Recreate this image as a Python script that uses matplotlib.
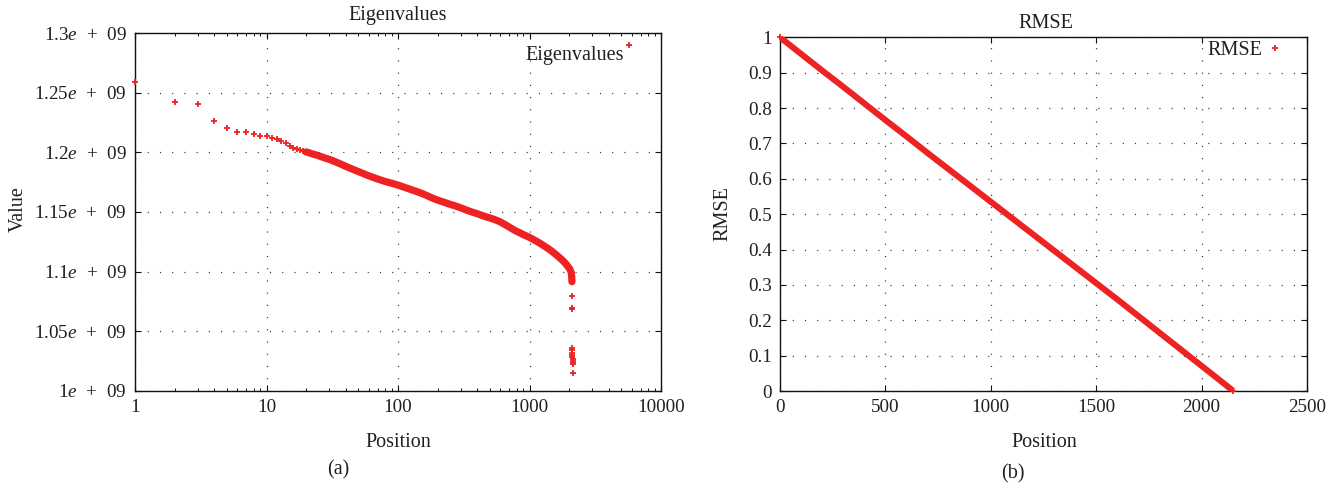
import numpy as np
import matplotlib
matplotlib.use("Agg")
import matplotlib.pyplot as plt
from matplotlib.ticker import FixedLocator, FixedFormatter, LogLocator, NullFormatter
from matplotlib.legend_handler import HandlerLine2D

# ---------------- data ----------------
eig_positions = [1, 2, 3, 4, 5, 6, 7, 8, 9, 10, 11, 12, 13, 14, 15, 16, 17, 18, 19, 20,
                 21, 22, 24, 26, 28, 30, 32, 35, 38, 41, 45, 49, 53, 58, 63, 68, 74, 80,
                 87, 94, 100, 110, 120, 130, 142, 155, 168, 184, 200, 220, 240, 262, 287,
                 310, 332, 360, 390, 425, 460, 500, 545, 597, 650, 710, 775, 845, 920,
                 1000, 1100, 1200, 1300, 1400, 1500, 1600, 1700, 1800, 1900, 1950, 2000,
                 2040, 2060, 2075, 2085, 2092, 2097, 2100, 2103,
                 2105, 2108, 2110, 2112, 2114, 2116, 2118, 2121, 2124, 2128, 2133, 2140, 2153]
eig_values_e9 = [1.2589, 1.2426, 1.2404, 1.2266, 1.2207, 1.2174, 1.2171, 1.2155, 1.2142, 1.2135,
                 1.2123, 1.2110, 1.2096, 1.2082, 1.2056, 1.2040, 1.2030, 1.2020, 1.2010, 1.2004,
                 1.1998, 1.1990, 1.1978, 1.1965, 1.1952, 1.1942, 1.1930, 1.1912, 1.1895, 1.1878,
                 1.1860, 1.1843, 1.1828, 1.1810, 1.1795, 1.1782, 1.1768, 1.1756, 1.1745, 1.1735,
                 1.1726, 1.1710, 1.1696, 1.1682, 1.1668, 1.1652, 1.1635, 1.1615, 1.1600, 1.1585,
                 1.1570, 1.1557, 1.1543, 1.1529, 1.1516, 1.1502, 1.1490, 1.1475, 1.1462, 1.1450,
                 1.1436, 1.1418, 1.1395, 1.1370, 1.1345, 1.1325, 1.1305, 1.1287, 1.1262, 1.1238,
                 1.1213, 1.1190, 1.1165, 1.1140, 1.1115, 1.1090, 1.1062, 1.1045, 1.1030, 1.1015,
                 1.1002, 1.0990, 1.0975, 1.0960, 1.0945, 1.0930, 1.0915,
                 1.0797, 1.0695, 1.0685, 1.0362, 1.0340, 1.0320, 1.0300, 1.0280, 1.0262, 1.0248,
                 1.0235, 1.0226, 1.0146]
eig_dense_range = (20, 2103)   # positions where the points merge into a solid band

rmse_positions = [0, 100, 200, 300, 400, 500, 600, 700, 800, 900, 1000, 1100, 1200,
                  1300, 1400, 1500, 1600, 1700, 1800, 1900, 2000, 2100, 2150]
rmse_values = [1.000, 0.953, 0.906, 0.860, 0.813, 0.766, 0.720, 0.673, 0.627, 0.581,
               0.535, 0.489, 0.443, 0.397, 0.351, 0.305, 0.259, 0.212, 0.165, 0.118,
               0.071, 0.024, 0.000]

eig_xticks = [1, 10, 100, 1000, 10000]
eig_xticklabels = ["1", "10", "100", "1000", "10000"]
eig_yticks_e9 = [1.0, 1.05, 1.1, 1.15, 1.2, 1.25, 1.3]
eig_yticklabels = [r"$1e\ \,+\ \,09$", r"$1.05e\ \,+\ \,09$", r"$1.1e\ \,+\ \,09$",
                   r"$1.15e\ \,+\ \,09$", r"$1.2e\ \,+\ \,09$", r"$1.25e\ \,+\ \,09$",
                   r"$1.3e\ \,+\ \,09$"]
rmse_xticks = [0, 500, 1000, 1500, 2000, 2500]
rmse_xticklabels = ["0", "500", "1000", "1500", "2000", "2500"]
rmse_yticks = [0, 0.1, 0.2, 0.3, 0.4, 0.5, 0.6, 0.7, 0.8, 0.9, 1.0]
rmse_yticklabels = ["0", "0.1", "0.2", "0.3", "0.4", "0.5", "0.6", "0.7", "0.8", "0.9", "1"]

# ---------------- style ----------------
SERIF = "Liberation Serif"
TXT = "#231f20"
RED = "#ee2222"
plt.rcParams.update({
    "font.family": [SERIF, "DejaVu Serif"],
    "mathtext.fontset": "custom",
    "mathtext.rm": SERIF,
    "mathtext.it": SERIF + ":italic",
    "mathtext.bf": SERIF + ":bold",
    "text.color": TXT,
    "axes.edgecolor": "#111111",
    "xtick.color": "#111111",
    "ytick.color": "#111111",
    "xtick.labelcolor": TXT,
    "ytick.labelcolor": TXT,
    "lines.scale_dashes": False,
})
TICK_FS = 13.8
LABEL_FS = 14.5

W, H = 1339, 488
fig = plt.figure(figsize=(W / 100, H / 100), dpi=100)
ax1 = fig.add_axes([135 / W, 1 - 390.7 / H, (661 - 135) / W, (390.7 - 33.3) / H])
ax2 = fig.add_axes([780 / W, 1 - 391 / H, (1307 - 780) / W, (391 - 37.3) / H])

GRID_KW = dict(color="0.2", linewidth=0.9, linestyle=(0, (0.8, 8.0)))


def style_axes(ax):
    for s in ax.spines.values():
        s.set_linewidth(1.0)
    ax.tick_params(which="major", direction="in", length=4.5, width=0.8,
                   top=True, right=True, labelsize=TICK_FS)
    ax.tick_params(which="minor", direction="in", length=2.3, width=0.7,
                   top=True, right=True)
    ax.tick_params(axis="y", pad=6)
    ax.tick_params(axis="x", pad=6)
    ax.grid(True, which="major", **GRID_KW)
    ax.set_axisbelow(True)


class RaisedMarkerHandler(HandlerLine2D):
    """Legend key whose sample marker sits a few pixels above the text centre."""
    def __init__(self, raise_px=0.0, **kw):
        super().__init__(**kw)
        self.raise_px = raise_px

    def create_artists(self, legend, orig_handle, xdescent, ydescent, width, height,
                       fontsize, trans):
        arts = super().create_artists(legend, orig_handle, xdescent, ydescent, width,
                                      height, fontsize, trans)
        shift = self.raise_px * 72.0 / legend.figure.dpi
        for a in arts:
            a.set_ydata([y + shift for y in a.get_ydata()])
        return arts


# ---------------- (a) Eigenvalues ----------------
pos = np.array(eig_positions, dtype=float)
val = np.array(eig_values_e9) * 1e9
dense = (pos >= eig_dense_range[0]) & (pos <= eig_dense_range[1])
ax1.set_xscale("log")
ax1.plot(pos[dense], val[dense], color=RED, linewidth=5.2, solid_capstyle="round",
         solid_joinstyle="round", zorder=3)
h1, = ax1.plot(pos, val, linestyle="none", marker="+", markersize=5, markeredgewidth=1.3,
               color=RED, clip_on=False, zorder=4, label="Eigenvalues")
ax1.set_xlim(1, 10000)
ax1.set_ylim(1.0e9, 1.3e9)
ax1.xaxis.set_major_locator(FixedLocator(eig_xticks))
ax1.xaxis.set_major_formatter(FixedFormatter(eig_xticklabels))
ax1.xaxis.set_minor_locator(LogLocator(base=10, subs=np.arange(2, 10)))
ax1.xaxis.set_minor_formatter(NullFormatter())
ax1.yaxis.set_major_locator(FixedLocator([v * 1e9 for v in eig_yticks_e9]))
ax1.yaxis.set_major_formatter(FixedFormatter(eig_yticklabels))
style_axes(ax1)
ax1.legend(handles=[h1], loc="upper right", bbox_to_anchor=(1 - 28 / 526, 1 - 13 / 357.4),
           markerfirst=False, frameon=False, handlelength=0.4, handletextpad=0.05,
           borderpad=0, borderaxespad=0, fontsize=LABEL_FS,
           handler_map={h1: RaisedMarkerHandler(raise_px=8.5)})

# ---------------- (b) RMSE ----------------
ax2.plot(rmse_positions, rmse_values, color=RED, linewidth=4.4, solid_capstyle="butt",
         zorder=3)
h2, = ax2.plot(rmse_positions, rmse_values, linestyle="none", marker="+", markersize=5,
               markeredgewidth=1.3, color=RED, clip_on=False, zorder=4, label="RMSE")
ax2.set_xlim(0, 2500)
ax2.set_ylim(0, 1)
ax2.xaxis.set_major_locator(FixedLocator(rmse_xticks))
ax2.xaxis.set_major_formatter(FixedFormatter(rmse_xticklabels))
ax2.yaxis.set_major_locator(FixedLocator(rmse_yticks))
ax2.yaxis.set_major_formatter(FixedFormatter(rmse_yticklabels))
style_axes(ax2)
ax2.legend(handles=[h2], loc="upper right", bbox_to_anchor=(1 - 28 / 527, 1 - 4 / 353.7),
           markerfirst=False, frameon=False, handlelength=0.4, handletextpad=0.45,
           borderpad=0, borderaxespad=0, fontsize=LABEL_FS)

# ---------------- texts ----------------
def ftext(x_px, y_px, s, **kw):
    fig.text(x_px / W, 1 - y_px / H, s, fontsize=LABEL_FS, **kw)

ftext(398, 20, "Eigenvalues", ha="center", va="baseline")
ftext(1046, 28.3, "RMSE", ha="center", va="baseline")
ftext(398, 446.7, "Position", ha="center", va="baseline")
ftext(1044, 447.3, "Position", ha="center", va="baseline")
ftext(18, 209, "Value", ha="center", va="center", rotation=90)
ftext(722.5, 214, "RMSE", ha="center", va="center", rotation=90)
ftext(338, 470, "(a)", ha="center", va="center")
ftext(1013, 474, "(b)", ha="center", va="center")

fig.savefig("out.png", dpi=100)
